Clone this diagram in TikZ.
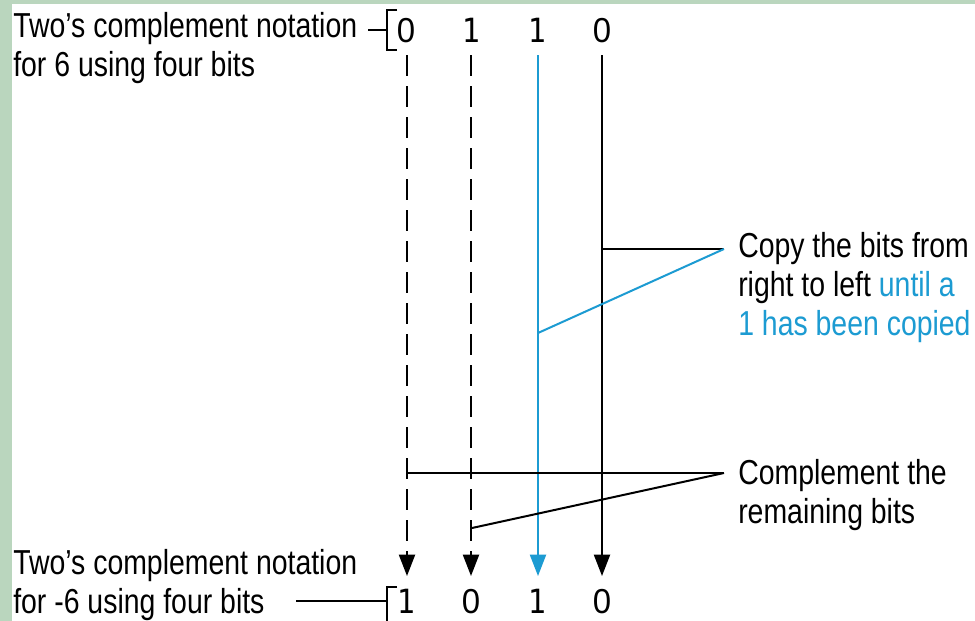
\documentclass[tikz,border=0pt]{standalone}
\usepackage{fontspec}
\setmainfont[FakeStretch=0.82]{Liberation Sans}
\newfontfamily\onefont[FakeStretch=0.9]{DejaVu Sans Mono}
\newfontfamily\zerofont[FakeStretch=0.95]{Liberation Sans}
\usetikzlibrary{arrows.meta}
\definecolor{cblue}{RGB}{28,155,210}
\definecolor{bggreen}{RGB}{186,214,190}
\tikzset{
  lbl/.style={anchor=north west, inner sep=0pt, align=left, font=\fontsize{26}{29.3}\selectfont},
  dig/.style={inner sep=0pt, anchor=base},
  done/.style={dig, font=\onefont\fontsize{25}{25}\selectfont},
  dzero/.style={dig, font=\zerofont\fontsize{26}{26}\selectfont},
  col/.style={line width=1.5pt, -{Triangle[length=16pt,width=12pt]}},
  dsh/.style={dash pattern=on 15.75pt off 7.5pt},
  lead/.style={line width=1.5pt},
  brk/.style={line width=1.4pt}
}
\begin{document}
\begin{tikzpicture}[x=0.75pt,y=-0.75pt]
\useasboundingbox (0,0) rectangle (975,621);
\fill[bggreen] (0,0) rectangle (975,621);
\fill[white] (12,4) rectangle (975,621);
% labels
\node[lbl] (topl) at (13,12) {Two’s complement notation\\for 6 using four bits};
\node[lbl] (botl) at (13,549) {Two’s complement notation\\for -6 using four bits};
\node[lbl] (copy) at (738,232) {Copy the bits from\\right to left \textcolor{cblue}{until a}\\\textcolor{cblue}{1 has been copied}};
\node[lbl] (comp) at (738,459) {Complement the\\remaining bits};
% digits
\node[dzero] (t0) at (406,42) {0};
\node[done] (t1) at (471,42) {1};
\node[done] (t2) at (537,42) {1};
\node[dzero] (t3) at (602,42) {0};
\node[done] (b0) at (406,613) {1};
\node[dzero] (b1) at (471,613) {0};
\node[done] (b2) at (537,613) {1};
\node[dzero] (b3) at (602,613) {0};
% columns
\coordinate (s0) at (407,55); \coordinate (e0) at (407,576);
\coordinate (s1) at (471,55); \coordinate (e1) at (471,576);
\coordinate (s2) at (538,55); \coordinate (e2) at (538,576);
\coordinate (s3) at (602,55); \coordinate (e3) at (602,576);
\draw[col,dsh] (s0) -- (e0);
\draw[col,dsh] (s1) -- (e1);
\draw[col,cblue] (s2) -- (e2);
\draw[col] (s3) -- (e3);
% leaders
\coordinate (cp) at (724,249);
\coordinate (cb) at (538,333);
\coordinate (cm) at (724,473);
\coordinate (cc) at (472,528);
\draw[lead] (cp) -- (cp -| s3);
\draw[lead,cblue] (cp) -- (cb);
\draw[lead] (cm) -- (cm -| s0);
\draw[lead] (cm) -- (cc);
% brackets
\draw[brk] (368,30) -- (387,30);
\draw[brk] (397,10) -- (387,10) -- (387,50) -- (397,50);
\draw[brk] (296,601) -- (387,601);
\draw[brk] (397,587) -- (387,587) -- (387,625);
\end{tikzpicture}
\end{document}
